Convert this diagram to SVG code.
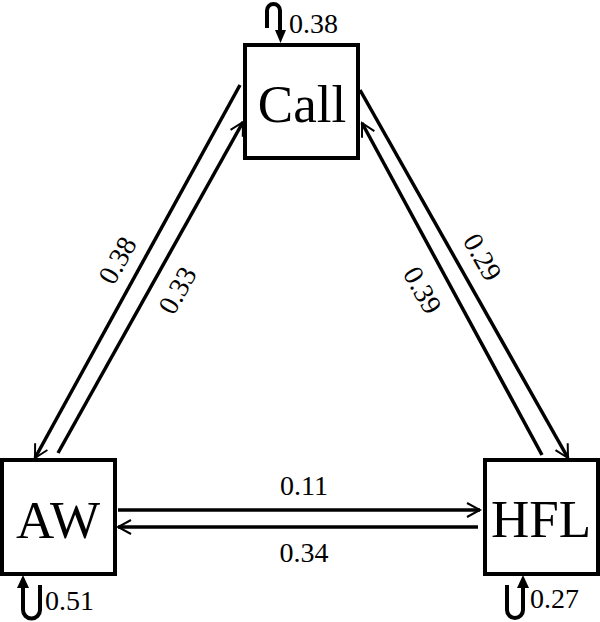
<svg xmlns="http://www.w3.org/2000/svg" width="600" height="622" viewBox="0 0 600 622">
<style>
.box{fill:#fff;stroke:#000;stroke-width:4}
.nl{font-family:'Liberation Serif','Times New Roman',serif;font-size:53px;fill:#000;text-anchor:middle}
.el{font-family:'Liberation Serif','Times New Roman',serif;font-size:28px;fill:#000}
.c{stroke:#000;stroke-width:3.5;fill:none}
.loop{stroke:#000;stroke-width:4;fill:none}
</style>
<defs>
<marker id="ah" markerUnits="userSpaceOnUse" viewBox="-16 -10 18 20" refX="0" refY="0" markerWidth="18" markerHeight="20" orient="auto">
<path d="M-13,-7 L0,0 L-13,7" fill="none" stroke="#000" stroke-width="2"/>
</marker>
</defs>
<rect width="600" height="622" fill="#fff"/>
<g id="connectors">
<line class="c" x1="240" y1="85" x2="35" y2="458" marker-end="url(#ah)"/>
<line class="c" x1="58" y1="453" x2="243" y2="122" marker-end="url(#ah)"/>
<line class="c" x1="360" y1="90" x2="568" y2="458" marker-end="url(#ah)"/>
<line class="c" x1="542" y1="455" x2="362" y2="123" marker-end="url(#ah)"/>
<line class="c" x1="118" y1="510" x2="480" y2="510" marker-end="url(#ah)"/>
<line class="c" x1="478" y1="527" x2="118" y2="527" marker-end="url(#ah)"/>
<text class="el" text-anchor="middle" transform="translate(117,260) rotate(-61)" y="10">0.38</text>
<text class="el" text-anchor="middle" transform="translate(177,290) rotate(-61)" y="10">0.33</text>
<text class="el" text-anchor="middle" transform="translate(483,257) rotate(60.5)" y="10">0.29</text>
<text class="el" text-anchor="middle" transform="translate(423,290) rotate(60.5)" y="10">0.39</text>
<text class="el" text-anchor="middle" x="304" y="495">0.11</text>
<text class="el" text-anchor="middle" x="304" y="562">0.34</text>
</g>
<g id="call">
<rect class="box" x="245" y="45" width="113" height="113"/>
<text class="nl" x="302" y="122">Call</text>
<path class="loop" d="M267,28 L267,10.5 A6.5,6.5 0 0 1 280,10.5 L280,32"/>
<polygon points="275,30 286,30 280.5,43"/>
<text class="el" x="289" y="33">0.38</text>
</g>
<g id="aw">
<rect class="box" x="2" y="460" width="113" height="114"/>
<text class="nl" x="58" y="538">AW</text>
<path class="loop" d="M23,586 L23,610 A8.5,8.5 0 0 0 40,610 L40,585"/>
<polygon points="17,588 29,588 23,575"/>
<text class="el" x="45" y="610">0.51</text>
</g>
<g id="hfl">
<rect class="box" x="485" y="460" width="113" height="114"/>
<text class="nl" x="541" y="537">HFL</text>
<path class="loop" d="M507,585 L507,610 A8,8 0 0 0 523,610 L523,586"/>
<polygon points="517,588 529,588 523,575"/>
<text class="el" x="530" y="608">0.27</text>
</g>
</svg>
